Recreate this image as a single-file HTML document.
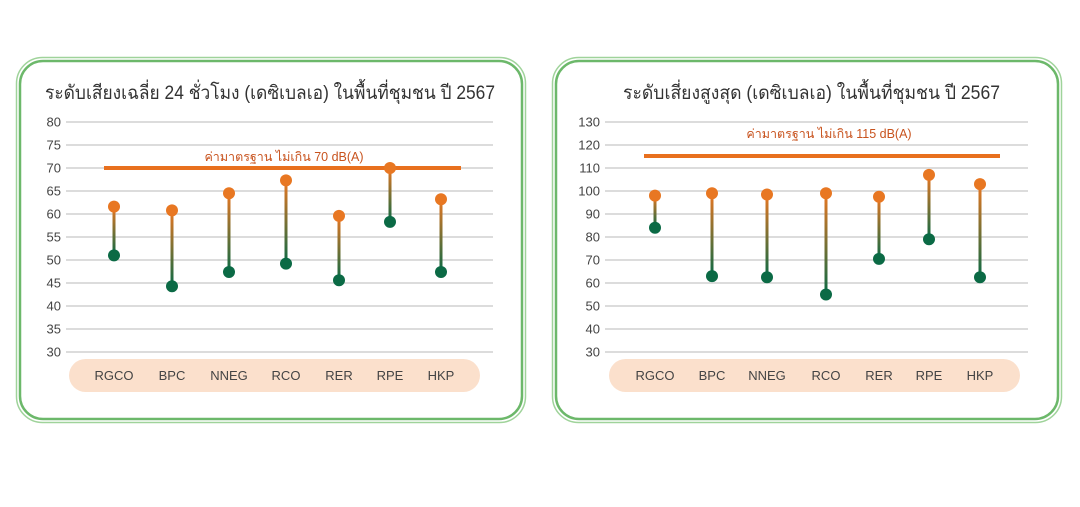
<!DOCTYPE html>
<html><head><meta charset="utf-8"><style>
body{margin:0;width:1080px;height:507px;background:#fff;overflow:hidden}
svg{display:block}
text{font-family:"Liberation Sans","DejaVu Sans",sans-serif}
</style></head><body>
<svg width="1080" height="507" viewBox="0 0 1080 507">
<defs>
<linearGradient id="g" x1="0" y1="0" x2="0" y2="1"><stop offset="0" stop-color="#e87722"/><stop offset="1" stop-color="#0b6a45"/></linearGradient>
</defs>
<rect x="16.5" y="57.5" width="509" height="365" rx="26" fill="none" stroke="#9fd39a" stroke-width="1.5"/>
<rect x="20" y="61" width="502" height="358" rx="23" fill="#fff" stroke="#6cb86a" stroke-width="2.5"/>
<rect x="552.5" y="57.5" width="509" height="365" rx="26" fill="none" stroke="#9fd39a" stroke-width="1.5"/>
<rect x="556" y="61" width="502" height="358" rx="23" fill="#fff" stroke="#6cb86a" stroke-width="2.5"/>
<text x="45" y="99" font-size="19" fill="#333" textLength="450" lengthAdjust="spacingAndGlyphs">ระดับเสียงเฉลี่ย 24 ชั่วโมง (เดซิเบลเอ) ในพื้นที่ชุมชน ปี 2567</text>
<text x="623" y="99" font-size="19" fill="#333" textLength="377" lengthAdjust="spacingAndGlyphs">ระดับเสี่ยงสูงสุด (เดซิเบลเอ) ในพื้นที่ชุมชน ปี 2567</text>
<g id="L" font-size="13" fill="#444" text-anchor="end"></g>
<g id="R" font-size="13" fill="#444" text-anchor="end"></g>
<rect x="69" y="359" width="411" height="33" rx="16.5" fill="#fbe0cc"/>
<rect x="609" y="359" width="411" height="33" rx="16.5" fill="#fbe0cc"/>
<g id="D"></g>
<text x="284" y="161" font-size="12.5" fill="#c8531e" text-anchor="middle">ค่ามาตรฐาน ไม่เกิน 70 dB(A)</text>
<text x="829" y="138" font-size="12.5" fill="#c8531e" text-anchor="middle">ค่ามาตรฐาน ไม่เกิน 115 dB(A)</text>
</svg>
<script>
var ns="http://www.w3.org/2000/svg";
function el(p,t,a,tx){var e=document.createElementNS(ns,t);for(var k in a)e.setAttribute(k,a[k]);if(tx!=null)e.textContent=tx;document.getElementById(p).appendChild(e);return e;}
for(var i=0;i<=10;i++){var y=122+i*23;
 el('L','line',{x1:66,x2:493,y1:y,y2:y,stroke:'#c8c8c8','stroke-width':1.2});
 el('L','text',{x:61,y:y+4.5},80-5*i);
 el('R','line',{x1:605,x2:1028,y1:y,y2:y,stroke:'#c8c8c8','stroke-width':1.2});
 el('R','text',{x:600,y:y+4.5},130-10*i);}
el('D','rect',{x:104,y:166,width:357,height:4,fill:'#e8701e'});
el('D','rect',{x:644,y:154,width:356,height:4,fill:'#e8701e'});
var cats=['RGCO','BPC','NNEG','RCO','RER','RPE','HKP'];
function draw(xs,hi,lo,y0,v0,s){for(var i=0;i<7;i++){var yh=y0+(v0-hi[i])*s,yl=y0+(v0-lo[i])*s;
 el('D','rect',{x:xs[i]-1.5,y:yh,width:3,height:yl-yh,fill:'url(#g)'});
 el('D','circle',{cx:xs[i],cy:yh,r:6,fill:'#e87722'});
 el('D','circle',{cx:xs[i],cy:yl,r:6,fill:'#0b6a45'});
 el('D','text',{x:xs[i],y:380,'font-size':13,fill:'#444','text-anchor':'middle'},cats[i]);}}
draw([114,172,229,286,339,390,441],[61.6,60.8,64.5,67.3,59.6,70,63.2],[51,44.3,47.4,49.2,45.6,58.3,47.4],122,80,4.6);
draw([655,712,767,826,879,929,980],[98,99,98.5,99,97.5,107,103],[84,63,62.5,55,70.5,79,62.5],122,130,2.3);
</script>
</body></html>
